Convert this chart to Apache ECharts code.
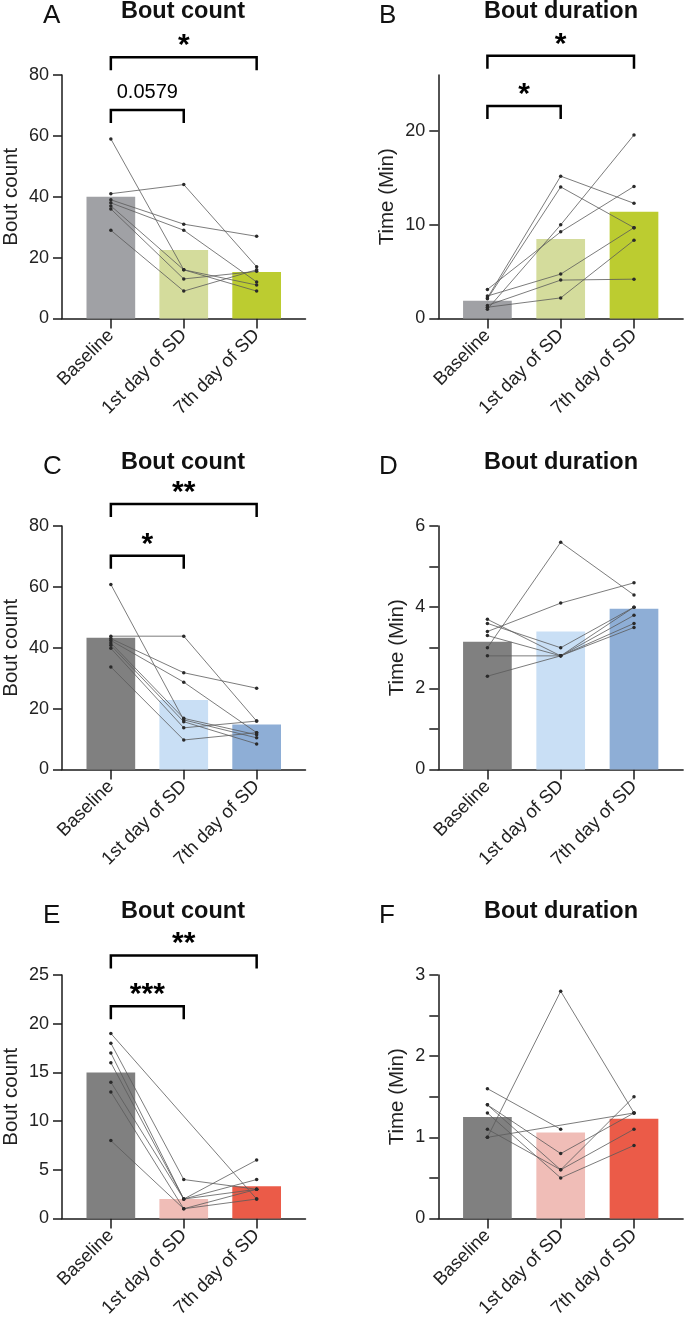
<!DOCTYPE html>
<html><head><meta charset="utf-8">
<script src="https://cdn.jsdelivr.net/npm/echarts@6/dist/echarts.min.js"></script>
<style>html,body{margin:0;padding:0;background:#fff}#c{width:685px;height:1324px}</style>
</head><body><div id="c"></div>
<script>
const categories = ['Baseline', '1st day of SD', '7th day of SD'];

// Panel A – Bout count
const aMeans = [40.0, 22.5, 15.3];
const aBaseline = [59, 41, 39, 38, 37, 36, 29];
const aDay1 = [16, 44, 31, 29, 16, 13, 9];
const aDay7 = [11, 17, 27, 12, 9, 15.5, 16];
const aYTicks = [0, 20, 40, 60, 80];
const aBrackets = [[0, 2, 85.8], [0, 1, 68.5]];
const aBracketLabels = ['*', '0.0579'];

// Panel B – Bout duration
const bMeans = [1.9, 8.5, 11.4];
const bBaseline = [2.2, 2.1, 1.0, 3.1, 2.4, 1.4, 1.2];
const bDay1 = [15.2, 14.05, 10.0, 9.25, 4.74, 4.1, 2.2];
const bDay7 = [12.3, 9.7, 19.6, 14.1, 9.7, 4.2, 8.36];
const bYTicks = [0, 10, 20];
const bBrackets = [[0, 2, 28.05], [0, 1, 22.7]];
const bBracketLabels = ['*', '*'];

// Panel C – Bout count
const cMeans = [43.3, 22.8, 14.8];
const cBaseline = [60.8, 43.8, 43.0, 42.4, 41.6, 40.8, 39.8, 33.7];
const cDay1 = [16.3, 43.8, 31.8, 28.7, 16.8, 15.7, 13.7, 9.7];
const cDay7 = [10.4, 15.9, 26.7, 12.1, 11.4, 8.4, 15.9, 12.1];
const cYTicks = [0, 20, 40, 60, 80];
const cBrackets = [[0, 2, 87.2], [0, 1, 70.2]];
const cBracketLabels = ['**', '*'];

// Panel D – Bout duration
const dMeans = [3.15, 3.4, 3.96];
const dBaseline = [3.0, 3.4, 3.7, 3.6, 3.3, 2.8, 2.3];
const dDay1 = [5.6, 4.1, 2.8, 3.0, 2.8, 2.8, 2.8];
const dDay7 = [4.3, 4.6, 4.0, 4.0, 3.8, 3.6, 3.5];
const dYTicks = [0, 1, 2, 3, 4, 5, 6];
const dYLabels = [0, 2, 4, 6];

// Panel E – Bout count
const eMeans = [15.0, 2.0, 3.3];
const eBaseline = [19, 18, 17, 16, 14, 13, 8];
const eDay1 = [null, 4, 2, 2, 2, 1, 1];
const eDay7 = [2, 3, 6, 4, 3, 3, 2];
const eYTicks = [0, 5, 10, 15, 20, 25];
const eBrackets = [[0, 2, 27.0], [0, 1, 21.8]];
const eBracketLabels = ['**', '***'];

// Panel F – Bout duration
const fMeans = [1.25, 1.06, 1.23];
const fBaseline = [1.0, 1.6, 1.4, 1.4, 1.3, 1.1, 1.0];
const fDay1 = [2.8, 1.1, 0.8, 0.6, 0.5, 0.6, null];
const fDay7 = [1.3, null, 1.3, 1.5, 0.9, 1.1, 1.3];
const fYTicks = [0, 0.5, 1, 1.5, 2, 2.5, 3];
const fYLabels = [0, 1, 2, 3];

const greenColors = ['#a0a1a5', '#d4dc9c', '#bccc30'];
const blueColors = ['#808080', '#c9dff5', '#8eaed6'];
const redColors = ['#808080', '#f0bdb7', '#eb5b48'];

const panels = [
  {letter: 'A', title: 'Bout count', yName: 'Bout count', means: aMeans, subj: [aBaseline, aDay1, aDay7], colors: greenColors, max: 80, ticks: aYTicks, labels: aYTicks, br: aBrackets, brL: aBracketLabels, col: 0, row: 0, gap: 40},
  {letter: 'B', title: 'Bout duration', yName: 'Time (Min)', means: bMeans, subj: [bBaseline, bDay1, bDay7], colors: greenColors, max: 26, ticks: bYTicks, labels: bYTicks, br: bBrackets, brL: bBracketLabels, col: 1, row: 0, gap: 40},
  {letter: 'C', title: 'Bout count', yName: 'Bout count', means: cMeans, subj: [cBaseline, cDay1, cDay7], colors: blueColors, max: 80, ticks: cYTicks, labels: cYTicks, br: cBrackets, brL: cBracketLabels, col: 0, row: 1, gap: 40},
  {letter: 'D', title: 'Bout duration', yName: 'Time (Min)', means: dMeans, subj: [dBaseline, dDay1, dDay7], colors: blueColors, max: 6, ticks: dYTicks, labels: dYLabels, br: [], brL: [], col: 1, row: 1, gap: 30},
  {letter: 'E', title: 'Bout count', yName: 'Bout count', means: eMeans, subj: [eBaseline, eDay1, eDay7], colors: redColors, max: 25, ticks: eYTicks, labels: eYTicks, br: eBrackets, brL: eBracketLabels, col: 0, row: 2, gap: 40},
  {letter: 'F', title: 'Bout duration', yName: 'Time (Min)', means: fMeans, subj: [fBaseline, fDay1, fDay7], colors: redColors, max: 3, ticks: fYTicks, labels: fYLabels, br: [], brL: [], col: 1, row: 2, gap: 30}
];

const FONT = '"Liberation Sans", Arial, Helvetica, sans-serif';
const colLeft = [60.7, 438.3];
const rowTop = [75, 526, 975];
const rowOff = [0, 451, 900];
const gridW = 244.8, gridH = 243.5;
const letterX = [43, 379];
const titleX = [183, 561];
const axisColor = '#1a1a1a';

const grids = [], xAxes = [], yAxes = [], series = [], graphics = [];

panels.forEach((p, i) => {
  grids.push({left: colLeft[p.col], top: rowTop[p.row], width: gridW, height: gridH, containLabel: false});
  xAxes.push({
    type: 'value', gridIndex: i, min: -0.67, max: 2.67,
    splitLine: {show: false},
    axisLine: {show: true, onZero: false, lineStyle: {color: axisColor, width: 1.5}},
    axisTick: {show: true, length: 10, lineStyle: {color: axisColor, width: 1.5}, customValues: [0, 1, 2]},
    axisLabel: {show: true, rotate: 45, margin: 14, fontSize: 18.5, color: '#222', fontFamily: FONT,
      customValues: [0, 1, 2], formatter: v => categories[Math.round(v)]}
  });
  yAxes.push({
    type: 'value', gridIndex: i, min: 0, max: p.max,
    name: p.yName, nameLocation: 'middle', nameGap: p.gap,
    nameTextStyle: {fontSize: 20.5, color: '#222', fontFamily: FONT},
    splitLine: {show: false},
    axisLine: {show: true, onZero: false, lineStyle: {color: axisColor, width: 1.5}},
    axisTick: {show: true, length: 9, lineStyle: {color: axisColor, width: 1.5}, customValues: p.ticks},
    axisLabel: {show: true, margin: 13, fontSize: 18, color: '#222', fontFamily: FONT, customValues: p.labels}
  });
  series.push({
    type: 'bar', xAxisIndex: i, yAxisIndex: i, barWidth: 48.7, silent: true, z: 1,
    data: p.means.map((m, k) => ({value: [k, m], itemStyle: {color: p.colors[k]}}))
  });
  const n = p.subj[0].length;
  for (let s = 0; s < n; s++) {
    series.push({
      type: 'line', xAxisIndex: i, yAxisIndex: i, z: 3, silent: true, connectNulls: true,
      symbol: 'circle', symbolSize: 3.5, showSymbol: true,
      itemStyle: {color: '#2a2a2a'}, lineStyle: {color: '#5a5a5a', width: 0.8},
      data: [0, 1, 2].map(k => [k, p.subj[k][s] == null ? '-' : p.subj[k][s]])
    });
  }
  if (p.br.length) {
    const labels = p.brL;
    series.push({
      type: 'custom', xAxisIndex: i, yAxisIndex: i, clip: false, silent: true, z: 5,
      encode: {x: [0, 1], y: 2},
      data: p.br,
      renderItem: (params, api) => {
        const a = api.coord([api.value(0), api.value(2)]);
        const b = api.coord([api.value(1), api.value(2)]);
        const lab = labels[params.dataIndex];
        const isStar = lab.indexOf('*') >= 0;
        const drop = 13;
        return {
          type: 'group', children: [
            {type: 'polyline', shape: {points: [[a[0], a[1] + drop], [a[0], a[1]], [b[0], b[1]], [b[0], b[1] + drop]]},
              style: {stroke: '#000', lineWidth: 2.5, fill: null}},
            {type: 'text', style: {text: lab, x: (a[0] + b[0]) / 2, y: isStar ? a[1] - 11.5 : a[1] - 18,
              align: 'center', verticalAlign: 'middle', fill: '#000',
              font: (isStar ? 'bold 30px ' : '20px ') + FONT}}
          ]
        };
      }
    });
  }
  graphics.push({type: 'text', left: letterX[p.col], top: 3 + rowOff[p.row],
    style: {text: p.letter, font: '26px ' + FONT, fill: '#111'}});
  graphics.push({type: 'text', x: titleX[p.col], y: 0 + rowOff[p.row],
    style: {text: p.title, font: 'bold 23.5px ' + FONT, fill: '#111', align: 'center', verticalAlign: 'top'}});
});

const chart = echarts.init(document.getElementById('c'), null, {renderer: 'canvas'});
chart.setOption({
  animation: false,
  backgroundColor: '#fff',
  grid: grids, xAxis: xAxes, yAxis: yAxes, series: series, graphic: graphics
});
</script></body></html>
